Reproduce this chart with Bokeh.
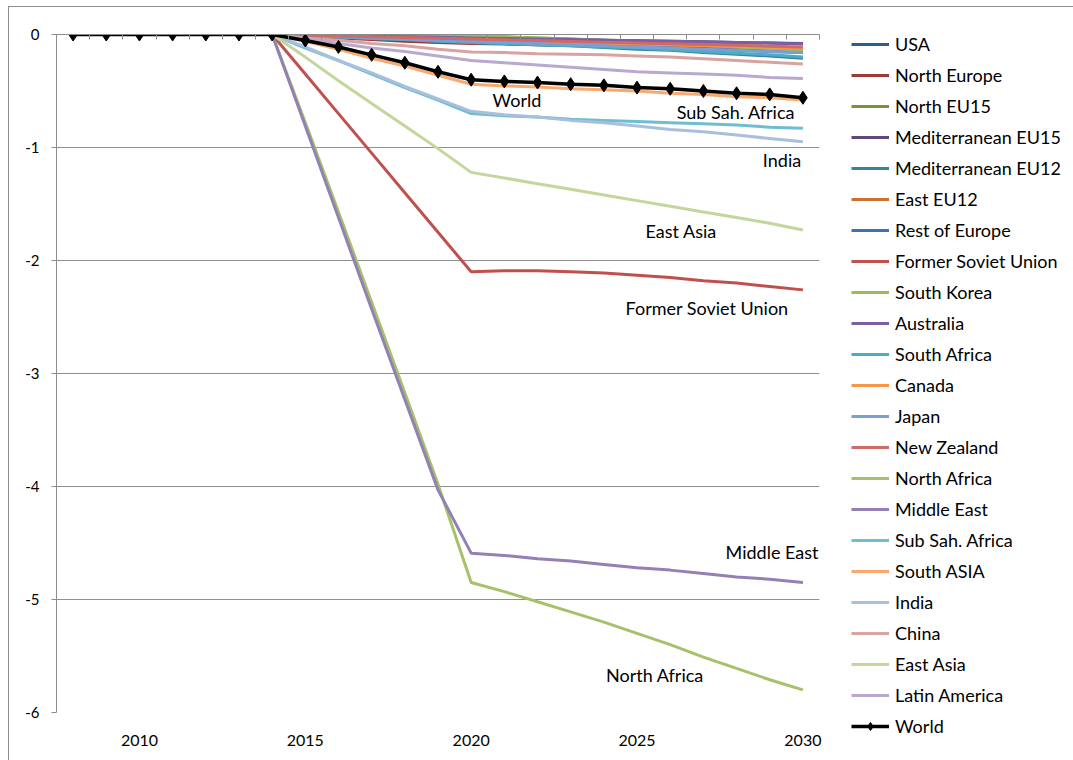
from bokeh.plotting import figure
from bokeh.models import Range1d, LinearAxis, FixedTicker, Legend, LegendItem, Label
from bokeh.embed import file_html
from bokeh.resources import INLINE

years = list(range(2008, 2031))
pre = [0, 0, 0, 0, 0, 0, 0]  # 2008-2014

usa = pre + [-0.01, -0.02, -0.03, -0.035, -0.04, -0.05, -0.056, -0.063, -0.07, -0.077, -0.084, -0.09, -0.097, -0.104, -0.11, -0.12]
north_europe = pre + [-0.015, -0.03, -0.045, -0.06, -0.07, -0.08, -0.085, -0.09, -0.095, -0.10, -0.105, -0.11, -0.12, -0.125, -0.13, -0.14]
north_eu15 = pre + [0, 0, -0.005, -0.005, -0.01, -0.01, -0.02, -0.03, -0.04, -0.05, -0.06, -0.08, -0.09, -0.11, -0.12, -0.13]
med_eu15 = pre + [-0.005, -0.01, -0.015, -0.02, -0.025, -0.03, -0.035, -0.04, -0.045, -0.05, -0.055, -0.06, -0.065, -0.07, -0.075, -0.08]
med_eu12 = pre + [-0.01, -0.02, -0.035, -0.045, -0.055, -0.07, -0.08, -0.09, -0.10, -0.115, -0.13, -0.14, -0.16, -0.175, -0.19, -0.21]
east_eu12 = pre + [-0.01, -0.02, -0.03, -0.04, -0.05, -0.06, -0.065, -0.07, -0.08, -0.085, -0.09, -0.10, -0.105, -0.115, -0.12, -0.13]
rest_europe = pre + [-0.01, -0.02, -0.035, -0.045, -0.055, -0.07, -0.075, -0.085, -0.09, -0.10, -0.11, -0.12, -0.13, -0.14, -0.15, -0.16]
fsu = pre + [-0.35, -0.70, -1.05, -1.40, -1.75, -2.10, -2.09, -2.09, -2.10, -2.11, -2.13, -2.15, -2.18, -2.20, -2.23, -2.26]
south_korea = pre + [0, 0, 0, -0.005, -0.005, -0.01, -0.02, -0.03, -0.04, -0.055, -0.07, -0.08, -0.095, -0.11, -0.125, -0.14]
australia = pre + [-0.005, -0.01, -0.015, -0.02, -0.025, -0.03, -0.035, -0.04, -0.045, -0.05, -0.055, -0.06, -0.065, -0.07, -0.075, -0.085]
south_africa = pre + [-0.01, -0.02, -0.035, -0.045, -0.06, -0.07, -0.08, -0.09, -0.10, -0.11, -0.12, -0.135, -0.15, -0.165, -0.18, -0.20]
canada = pre + [-0.008, -0.016, -0.025, -0.033, -0.042, -0.05, -0.056, -0.063, -0.07, -0.077, -0.084, -0.09, -0.097, -0.105, -0.112, -0.12]
japan = pre + [-0.01, -0.02, -0.03, -0.04, -0.05, -0.06, -0.07, -0.08, -0.09, -0.10, -0.11, -0.12, -0.13, -0.14, -0.15, -0.16]
new_zealand = pre + [-0.007, -0.013, -0.02, -0.027, -0.033, -0.04, -0.047, -0.054, -0.061, -0.068, -0.075, -0.082, -0.089, -0.096, -0.103, -0.11]
north_africa = pre + [-0.78, -1.57, -2.37, -3.17, -3.98, -4.85, -4.93, -5.02, -5.11, -5.20, -5.30, -5.40, -5.51, -5.61, -5.71, -5.80]
middle_east = pre + [-0.81, -1.62, -2.43, -3.23, -4.03, -4.59, -4.61, -4.64, -4.66, -4.69, -4.72, -4.74, -4.77, -4.80, -4.82, -4.85]
sub_sah_africa = pre + [-0.12, -0.23, -0.35, -0.47, -0.58, -0.70, -0.72, -0.73, -0.75, -0.76, -0.77, -0.78, -0.79, -0.80, -0.82, -0.83]
south_asia = pre + [-0.06, -0.13, -0.21, -0.28, -0.36, -0.44, -0.455, -0.465, -0.48, -0.49, -0.50, -0.52, -0.53, -0.55, -0.56, -0.58]
india = pre + [-0.11, -0.23, -0.34, -0.46, -0.57, -0.68, -0.71, -0.73, -0.76, -0.78, -0.81, -0.84, -0.86, -0.89, -0.92, -0.95]
china = pre + [-0.03, -0.05, -0.08, -0.10, -0.13, -0.155, -0.16, -0.17, -0.175, -0.18, -0.19, -0.20, -0.215, -0.23, -0.245, -0.26]
east_asia = pre + [-0.20, -0.41, -0.61, -0.81, -1.01, -1.22, -1.27, -1.32, -1.37, -1.42, -1.47, -1.52, -1.57, -1.62, -1.67, -1.73]
latin_america = pre + [-0.04, -0.08, -0.12, -0.15, -0.19, -0.23, -0.25, -0.27, -0.29, -0.31, -0.33, -0.34, -0.35, -0.36, -0.38, -0.39]
world = pre + [-0.053, -0.11, -0.18, -0.25, -0.33, -0.40, -0.415, -0.425, -0.44, -0.45, -0.47, -0.48, -0.50, -0.52, -0.53, -0.56]

series_names = ["USA", "North Europe", "North EU15", "Mediterranean EU15", "Mediterranean EU12",
                "East EU12", "Rest of Europe", "Former Soviet Union", "South Korea", "Australia",
                "South Africa", "Canada", "Japan", "New Zealand", "North Africa", "Middle East",
                "Sub Sah. Africa", "South ASIA", "India", "China", "East Asia", "Latin America"]
series_values = [usa, north_europe, north_eu15, med_eu15, med_eu12, east_eu12, rest_europe, fsu,
                 south_korea, australia, south_africa, canada, japan, new_zealand, north_africa,
                 middle_east, sub_sah_africa, south_asia, india, china, east_asia, latin_america]
series_colors = ["#2c5d8f", "#9b3a37", "#77933c", "#5f497a", "#31859c", "#cc7030", "#3c72b4",
                 "#c0504d", "#9bbb59", "#7b5ea3", "#4bacc6", "#f79646", "#7b9fd4", "#cd6b69",
                 "#a5c26a", "#9480b5", "#6fbdd1", "#f9a86e", "#a8bfdd", "#d9a3a1", "#c3d69b", "#b7a9cf"]

y_ticks = [0, -1, -2, -3, -4, -5, -6]
y_tick_labels = ["0", "-1", "-2", "-3", "-4", "-5", "-6"]
x_ticks = [2010, 2015, 2020, 2025, 2030]

annot_texts = ["World", "Sub Sah. Africa", "India", "East Asia", "Former Soviet Union", "Middle East", "North Africa"]
annot_x = [2021.38, 2027.98, 2029.37, 2026.33, 2027.11, 2029.07, 2025.54]
annot_y = [-0.584, -0.69, -1.115, -1.743, -2.416, -4.58, -5.67]

FONT = "Lato"

p = figure(frame_width=763, frame_height=678, output_backend="svg", toolbar_location=None,
           x_range=Range1d(2007.5, 2030.5), y_range=Range1d(-6, 0),
           min_border_left=47, min_border_top=27, min_border_bottom=49, min_border_right=0)
p.outline_line_color = None
p.background_fill_color = "white"
p.border_fill_color = "white"

# y axis
ya = p.yaxis[0]
ya.ticker = FixedTicker(ticks=y_ticks)
ya.major_label_overrides = {t: s for t, s in zip(y_ticks, y_tick_labels)}
ya.axis_line_color = "#8c8c8c"
ya.major_tick_line_color = "#8c8c8c"
ya.major_tick_out = 5
ya.major_tick_in = 0
ya.minor_tick_line_color = None
ya.major_label_text_font = FONT
ya.major_label_text_font_size = "15px"
ya.major_label_text_color = "#000000"
ya.major_label_standoff = 12

# x axis (labels at bottom)
xa = p.xaxis[0]
xa.ticker = FixedTicker(ticks=x_ticks)
xa.axis_line_color = None
xa.major_tick_line_color = None
xa.minor_tick_line_color = None
xa.major_label_text_font = FONT
xa.major_label_text_font_size = "16px"
xa.major_label_text_color = "#000000"
xa.major_label_standoff = 16

# horizontal axis line at 0 with ticks between categories (minor ticks only, no labels)
top_axis = LinearAxis(ticker=FixedTicker(ticks=[], minor_ticks=[2007.5 + i for i in range(24)]),
                      axis_line_color="#8c8c8c", major_tick_line_color=None,
                      minor_tick_line_color="#8c8c8c", minor_tick_in=5, minor_tick_out=0)
p.add_layout(top_axis, "above")

p.xgrid.visible = False
p.ygrid.ticker = FixedTicker(ticks=[-1, -2, -3, -4, -5, -6])
p.ygrid.grid_line_color = "#8f8f8f"
p.ygrid.grid_line_width = 1

items = []
for name, vals, col in zip(series_names, series_values, series_colors):
    r = p.line(years, vals, line_color=col, line_width=3)
    items.append(LegendItem(label=name, renderers=[r]))

rw = p.line(years, world, line_color="black", line_width=3.5)
rm = p.scatter(years, world, marker="diamond", size=13, fill_color="black", line_color="black")
items.append(LegendItem(label="World", renderers=[rw, rm]))

for t, x, y in zip(annot_texts, annot_x, annot_y):
    p.add_layout(Label(x=x, y=y, text=t, text_align="center", text_baseline="middle",
                       text_font=FONT, text_font_size="18px", text_color="#000000"))

legend = Legend(items=items, location=(32, -25), orientation="vertical",
                background_fill_alpha=0, border_line_color=None, padding=0, margin=0,
                label_text_font=FONT, label_text_font_size="18px", label_text_color="#000000",
                glyph_width=38, glyph_height=20, label_height=20, label_standoff=6, spacing=9)
p.add_layout(legend, "right")

p.styles = {"border": "1px solid #8c8c8c", "margin-left": "8px", "margin-top": "6px"}

open("out.html", "w").write(file_html(p, INLINE))
